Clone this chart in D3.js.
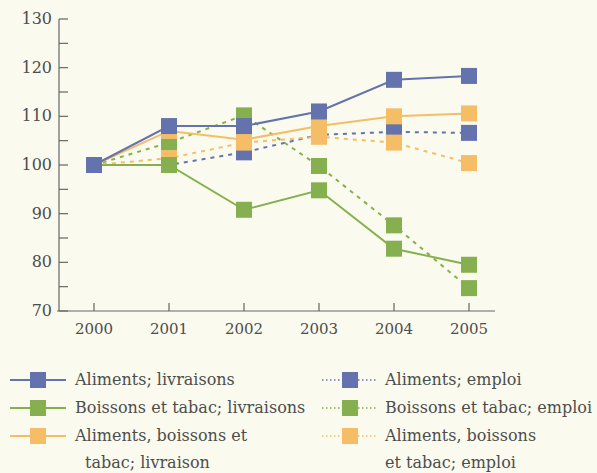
<!DOCTYPE html>
<html>
<head>
<meta charset="utf-8">
<script src="https://cdn.jsdelivr.net/npm/d3@7"></script>
<style>
  html, body { margin: 0; padding: 0; background: #fafbee; }
  svg { display: block; }
  text { font-family: "DejaVu Serif", "Liberation Serif", serif; fill: #4d4d4d; }
</style>
</head>
<body>
<div id="chart"></div>
<script>
// données (indice 2000 = 100)
const years = [2000, 2001, 2002, 2003, 2004, 2005];
const alimLivr = [100, 108, 108, 111, 117.5, 118.3];
const boisLivr = [100, 100, 90.8, 94.8, 82.8, 79.5];
const totLivr = [100, 107, 105.2, 108, 110, 110.6];
const alimEmpl = [100, 100, 102.6, 106.2, 106.8, 106.6];
const boisEmpl = [100, 104.6, 110.2, 99.8, 87.6, 74.7];
const totEmpl = [100, 101.4, 104.6, 105.8, 104.6, 100.4];
const yTicks = [70, 80, 90, 100, 110, 120, 130];

const width = 597, height = 473;

const series = [
  { name: "Aliments; livraisons", values: alimLivr, color: "#6473ad", dash: null },
  { name: "Boissons et tabac; livraisons", values: boisLivr, color: "#86b04f", dash: null },
  { name: "Aliments, boissons et|tabac; livraison", values: totLivr, color: "#f5bd66", dash: null },
  { name: "Aliments; emploi", values: alimEmpl, color: "#6473ad", dash: "4,5" },
  { name: "Boissons et tabac; emploi", values: boisEmpl, color: "#86b04f", dash: "4,5" },
  { name: "Aliments, boissons|et tabac; emploi", values: totEmpl, color: "#f5bd66", dash: "4,5" }
];

const svg = d3.select("#chart").append("svg")
  .attr("width", width)
  .attr("height", height);

const x = d3.scalePoint().domain(years).range([94, 469]);
const y = d3.scaleLinear().domain([70, 130]).range([311, 19]);

// axe Y
svg.append("line")
  .attr("x1", 59).attr("x2", 59)
  .attr("y1", y(130)).attr("y2", y(70))
  .attr("stroke", "#666").attr("stroke-width", 1.2);

svg.selectAll(".ytick")
  .data(d3.range(70, 131, 5))
  .enter().append("line")
  .attr("x1", 59).attr("x2", 68)
  .attr("y1", d => y(d)).attr("y2", d => y(d))
  .attr("stroke", "#666").attr("stroke-width", 1.2);

svg.selectAll(".ylab")
  .data(yTicks)
  .enter().append("text")
  .attr("x", 52).attr("y", d => y(d) + 5)
  .attr("text-anchor", "end")
  .attr("font-size", 16)
  .text(d => d);

// axe X
svg.append("line")
  .attr("x1", 57).attr("x2", 495)
  .attr("y1", 311).attr("y2", 311)
  .attr("stroke", "#666").attr("stroke-width", 1.2);

svg.selectAll(".xtick")
  .data(years)
  .enter().append("line")
  .attr("x1", d => x(d)).attr("x2", d => x(d))
  .attr("y1", 303).attr("y2", 311)
  .attr("stroke", "#666").attr("stroke-width", 1.2);

svg.selectAll(".xlab")
  .data(years)
  .enter().append("text")
  .attr("x", d => x(d)).attr("y", 334)
  .attr("text-anchor", "middle")
  .attr("font-size", 15)
  .text(d => d);

// lignes : pointillés d'abord, puis pleines
const line = d3.line().x((d, i) => x(years[i])).y(d => y(d));
const order = [3, 4, 5, 1, 2, 0];

order.forEach(k => {
  const s = series[k];
  svg.append("path")
    .attr("d", line(s.values))
    .attr("fill", "none")
    .attr("stroke", s.color)
    .attr("stroke-width", 2)
    .attr("stroke-dasharray", s.dash);
});

order.forEach(k => {
  const s = series[k];
  svg.append("g").selectAll("rect")
    .data(s.values)
    .enter().append("rect")
    .attr("x", (d, i) => x(years[i]) - 8)
    .attr("y", d => y(d) - 8)
    .attr("width", 16).attr("height", 16)
    .attr("fill", s.color);
});

// légende
const legend = svg.append("g");
series.forEach((s, i) => {
  const col = i < 3 ? 0 : 1;
  const row = i % 3;
  const lx = col === 0 ? 10 : 322;
  const ly = 380 + row * 28;
  const g = legend.append("g").attr("transform", `translate(${lx},${ly})`);
  g.append("line")
    .attr("x1", 0).attr("x2", 56)
    .attr("y1", 0).attr("y2", 0)
    .attr("stroke", s.color)
    .attr("stroke-width", col === 0 ? 2 : 1.5)
    .attr("stroke-dasharray", col === 0 ? null : "1.5,2.5");
  g.append("rect")
    .attr("x", 20).attr("y", -8)
    .attr("width", 16).attr("height", 16)
    .attr("fill", s.color);
  const parts = s.name.split("|");
  const t = g.append("text")
    .attr("y", 5)
    .attr("font-size", 16);
  parts.forEach((p, j) => {
    t.append("tspan")
      .attr("x", col === 0 ? (j ? 75 : 65) : 63)
      .attr("dy", j ? 27 : 0)
      .text(p);
  });
});
</script>
</body>
</html>
